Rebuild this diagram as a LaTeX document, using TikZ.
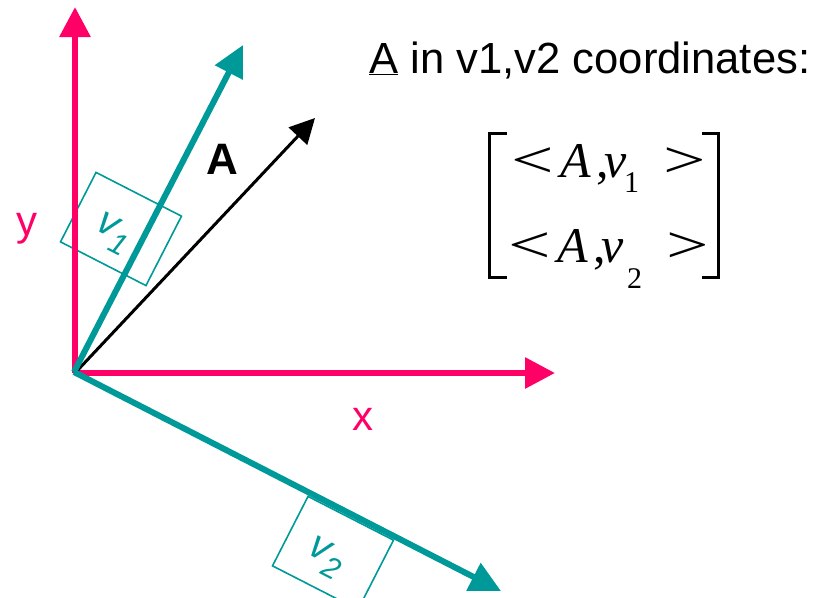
\documentclass[tikz,border=0pt]{standalone}
\usepackage{fontspec}
\setmainfont{Liberation Sans}
\newfontfamily\tms{Liberation Serif}
\usetikzlibrary{arrows.meta}
\definecolor{axpink}{RGB}{255,0,102}
\definecolor{vteal}{RGB}{0,153,153}
\tikzset{
  axis/.style={line width=6pt, draw=axpink, -{Triangle[length=30pt,width=30pt]}},
  vaxis/.style={line width=6pt, draw=vteal, -{Triangle[length=31pt,width=30pt]}},
  avec/.style={line width=3pt, draw=black, -{Triangle[length=25pt,width=25pt]}},
  vbox/.style={draw=vteal, line width=1.6pt, rectangle, minimum width=96pt, minimum height=78pt,
    rotate=-27.1, inner sep=0pt, text=vteal, font=\fontsize{40}{40}\selectfont\itshape},
  pinklab/.style={text=axpink, inner sep=0pt, anchor=base, font=\fontsize{42}{50}\selectfont},
  mtx/.style={inner sep=0pt, anchor=base west, font=\fontsize{50}{50}\selectfont\tms\itshape},
  mrel/.style={inner sep=0pt, anchor=base west, font=\fontsize{52}{52}\selectfont\tms},
  msub/.style={inner sep=0pt, anchor=base west, font=\fontsize{30}{30}\selectfont\tms},
  brk/.style={line width=3pt, draw=black},
}
\newcommand{\vlabel}[1]{\raisebox{-12.6pt}[0pt][0pt]{\hspace*{-9.6pt}v\raisebox{-12pt}{\fontsize{30}{30}\selectfont #1}}}
\newcommand{\wrel}[1]{\scalebox{1.45}[1]{#1}}
\begin{document}
\begin{tikzpicture}[x=1pt,y=-1pt]
\useasboundingbox (0,0) rectangle (821,597);
\clip (0,0) rectangle (821,597);
% coordinates
\coordinate (O) at (75,373);
\coordinate (Ov) at (74,372);
\coordinate (ytip) at (75,7);
\coordinate (xtip) at (555,373);
\coordinate (v1tip) at (243,45);
\coordinate (v2tip) at (501,591);
\coordinate (atip) at (315,118);
% boxes with labels
\node[vbox] (b1) at (121,229) {\vlabel{1}};
\node[vbox] (b2) at (333,553) {\vlabel{2}};
% axes
\draw[axis] (O) -- (ytip);
\draw[axis] (O) -- (xtip);
\draw[avec] (O) -- (atip);
\draw[vaxis] (Ov) -- (v1tip);
\draw[vaxis] (Ov) -- (v2tip);
% labels
\node[pinklab] (ylab) at (27,235) {y};
\node[pinklab] (xlab) at (363,430) {x};
\node[inner sep=0pt, anchor=base west, font=\fontsize{44}{50}\selectfont\bfseries] (Alab) at (206,174) {A};
\node[inner sep=0pt, anchor=base west, font=\fontsize{43.6}{50}\selectfont] (title) at (369,73) {\underline{A} in v1,v2 coordinates:};
% matrix row 1
\node[mrel] (r1a) at (511,177) {\wrel{<}};
\node[mtx] (r1b) at (560,177) {A};
\node[mtx, font=\fontsize{50}{50}\selectfont\tms] (r1c) at (596,177) {,};
\node[mtx] (r1d) at (604,177) {v};
\node[msub] (r1e) at (624,192) {1};
\node[mrel] (r1f) at (663,177) {\wrel{>}};
% matrix row 2
\node[mrel] (r2a) at (508,262) {\wrel{<}};
\node[mtx] (r2b) at (557,262) {A};
\node[mtx, font=\fontsize{50}{50}\selectfont\tms] (r2c) at (593,262) {,};
\node[mtx] (r2d) at (601,262) {v};
\node[msub] (r2e) at (627,288) {2};
\node[mrel] (r2f) at (666,262) {\wrel{>}};
% brackets
\coordinate (lbt) at (507,133);
\coordinate (lbb) at (507,277);
\coordinate (rbt) at (702,133);
\coordinate (rbb) at (702,277);
\draw[brk] (lbt) -| (489,277) -- (lbb);
\draw[brk] (rbt) -| (718,277) -- (rbb);
\end{tikzpicture}
\end{document}
